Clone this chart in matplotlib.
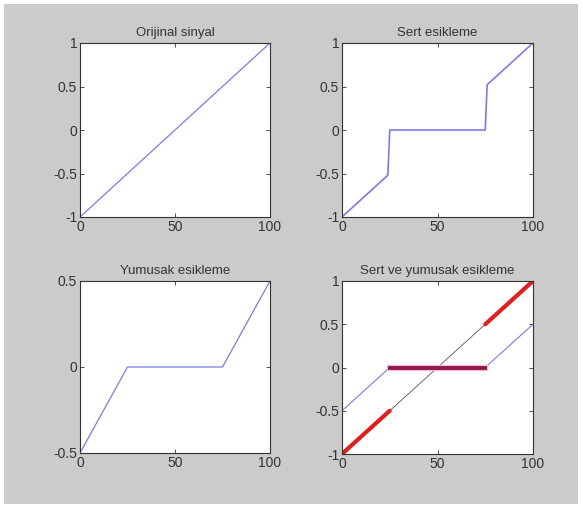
import matplotlib
matplotlib.use('Agg')
import matplotlib.pyplot as plt
from matplotlib.patches import Rectangle

plt.rcParams['font.family'] = ['Liberation Sans Narrow', 'Liberation Sans', 'DejaVu Sans']

# Data
orig_x = [0, 100]
orig_y = [-1, 1]

hard_x = [0, 24, 25, 75, 76, 100]
hard_y = [-1, -0.52, 0, 0, 0.52, 1]

soft_x = [0, 25, 75, 100]
soft_y = [-0.5, 0, 0, 0.5]

hard_low_x, hard_low_y = [0, 25], [-1, -0.5]
hard_mid_x, hard_mid_y = [25, 75], [0, 0]
hard_high_x, hard_high_y = [75, 100], [0.5, 1]

titles = ['Orijinal sinyal', 'Sert esikleme', 'Yumusak esikleme',
          'Sert ve yumusak esikleme']
xticks = [0, 50, 100]
yticks_full = [-1, -0.5, 0, 0.5, 1]
yticks_soft = [-0.5, 0, 0.5]

W, H = 582, 507
fig = plt.figure(figsize=(W / 100, H / 100), dpi=100, facecolor='white')

# grey MATLAB figure background
fig.patches.append(Rectangle((4 / W, 1 - 504 / H), 574 / W, 500 / H,
                             transform=fig.transFigure, facecolor='#cbcbcb',
                             edgecolor='none', zorder=-10))


def make_ax(left, top, right, bottom):
    ax = fig.add_axes([left / W, 1 - bottom / H, (right - left) / W, (bottom - top) / H])
    ax.set_facecolor('white')
    for s in ax.spines.values():
        s.set_color('#333333')
        s.set_linewidth(0.8)
    ax.tick_params(direction='in', top=True, right=True, length=3,
                   width=0.6, color='#333333', labelsize=10,
                   labelcolor='#333333', pad=2)
    ax.set_xlim(0, 100)
    ax.set_xticks(xticks)
    return ax


blue = '#7b7be6'

ax1 = make_ax(80, 43, 270, 217)
ax1.plot(orig_x, orig_y, color=blue, lw=0.9)
ax1.set_ylim(-1, 1)
ax1.set_yticks(yticks_full)
ax1.set_yticklabels(['-1', '-0.5', '0', '0.5', '1'])
ax1.set_title(titles[0], fontsize=9.5, color='#333333', pad=5)

ax2 = make_ax(342, 43, 533, 217)
ax2.plot(hard_x, hard_y, color=blue, lw=1.2)
ax2.set_ylim(-1, 1)
ax2.set_yticks(yticks_full)
ax2.set_yticklabels(['-1', '-0.5', '0', '0.5', '1'])
ax2.set_title(titles[1], fontsize=9.5, color='#333333', pad=5)

ax3 = make_ax(80, 281, 270, 453)
ax3.plot(soft_x, soft_y, color=blue, lw=0.9)
ax3.set_ylim(-0.5, 0.5)
ax3.set_yticks(yticks_soft)
ax3.set_yticklabels(['-0.5', '0', '0.5'])
ax3.set_title(titles[2], fontsize=9.5, color='#333333', pad=5)

ax4 = make_ax(342, 281, 533, 454)
ax4.plot(orig_x, orig_y, color='#555555', lw=0.6)
ax4.plot(soft_x, soft_y, color=blue, lw=0.8)
ax4.plot(hard_low_x, hard_low_y, color='#e02020', lw=3, solid_capstyle='round')
ax4.plot(hard_high_x, hard_high_y, color='#e02020', lw=3, solid_capstyle='round')
ax4.plot(hard_mid_x, hard_mid_y, color='#f5b8d0', lw=4.5)
ax4.plot(hard_mid_x, hard_mid_y, color='#8a1c4c', lw=2.8)
ax4.set_ylim(-1, 1)
ax4.set_yticks(yticks_full)
ax4.set_yticklabels(['-1', '-0.5', '0', '0.5', '1'])
ax4.set_title(titles[3], fontsize=9.5, color='#333333', pad=5)

fig.savefig('out.png', dpi=100, facecolor='white')
